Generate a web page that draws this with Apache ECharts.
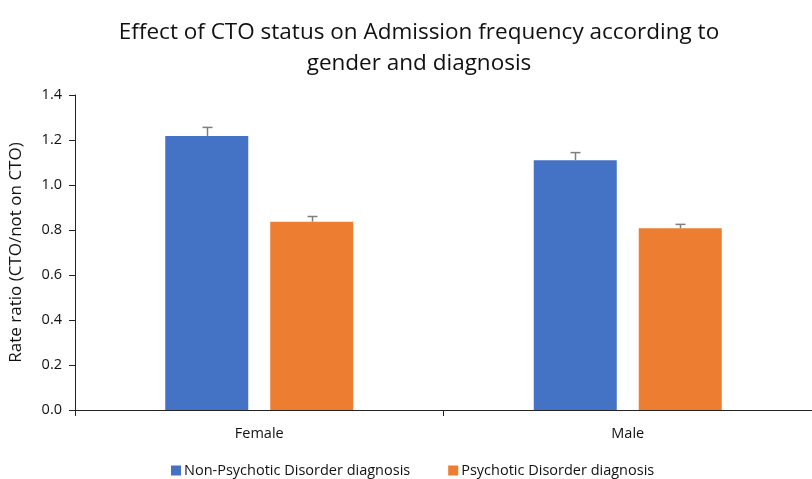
<!DOCTYPE html>
<html><head><meta charset="utf-8">
<script src="https://cdn.jsdelivr.net/npm/echarts@6/dist/echarts.min.js"></script>
<style>html,body{margin:0;padding:0;background:#fff}#c{width:812px;height:479px}</style>
</head><body><div id="c"></div>
<script>
const categories = ['Female', 'Male'];
const seriesNames = ['Non-Psychotic Disorder diagnosis', 'Psychotic Disorder diagnosis'];
const nonPsychotic = [1.218, 1.110];
const psychotic = [0.837, 0.808];
const nonPsychoticErrTop = [1.256, 1.144];
const psychoticErrTop = [0.860, 0.825];
const yTicks = [0, 0.2, 0.4, 0.6, 0.8, 1.0, 1.2, 1.4];

const BAR_W = 83, GAP = 22;
const font = '"Open Sans", "Liberation Sans", sans-serif';

function errSeries(vals, tops, offset) {
  return {
    type: 'custom',
    silent: true,
    z: 5,
    data: categories.map((c, i) => [i, vals[i], tops[i]]),
    renderItem: function (params, api) {
      const base = api.coord([api.value(0), api.value(1)]);
      const top = api.coord([api.value(0), api.value(2)]);
      const x = Math.round(base[0] + offset) + 0.5;
      return {
        type: 'group',
        children: [
          {type: 'line', shape: {x1: x, y1: base[1], x2: x, y2: top[1]}, style: {stroke: '#7f7f7f', lineWidth: 1.5}},
          {type: 'line', shape: {x1: x - 5, y1: top[1], x2: x + 5, y2: top[1]}, style: {stroke: '#7f7f7f', lineWidth: 1.5}}
        ]
      };
    }
  };
}

const chart = echarts.init(document.getElementById('c'));
chart.setOption({
  animation: false,
  title: {
    text: 'Effect of CTO status on Admission frequency according to\ngender and diagnosis',
    left: 414, top: 12, textAlign: 'center',
    textStyle: {fontFamily: font, fontSize: 22.5, fontWeight: 'normal', color: '#111', lineHeight: 31}
  },
  legend: {
    data: seriesNames,
    top: 458, left: 166,
    itemWidth: 10, itemHeight: 10, itemGap: 38,
    icon: 'rect',
    textStyle: {fontFamily: font, fontSize: 14.5, color: '#111', padding: [0, 0, 0, -2]}
  },
  grid: {left: 75, top: 95, width: 742, height: 315},
  xAxis: {
    type: 'category',
    data: categories,
    axisLine: {lineStyle: {color: '#222', width: 1}},
    axisTick: {show: true, length: 6, lineStyle: {color: '#222'}},
    axisLabel: {fontFamily: font, fontSize: 14.5, color: '#111', margin: 16}
  },
  yAxis: {
    type: 'value', min: 0, max: 1.4, interval: 0.2,
    name: 'Rate ratio (CTO/not on CTO)',
    nameLocation: 'middle', nameGap: 50, nameRotate: 90,
    nameTextStyle: {fontFamily: font, fontSize: 17, color: '#111'},
    axisLine: {show: true, lineStyle: {color: '#222'}},
    axisTick: {show: true, inside: false, length: 6, lineStyle: {color: '#222'}},
    splitLine: {show: false},
    axisLabel: {fontFamily: font, fontSize: 14.5, color: '#111', margin: 13,
      formatter: v => v.toFixed(1)}
  },
  series: [
    {name: seriesNames[0], type: 'bar', data: nonPsychotic, barWidth: BAR_W, barGap: (GAP / BAR_W * 100) + '%',
     itemStyle: {color: '#4472C4'}},
    {name: seriesNames[1], type: 'bar', data: psychotic, barWidth: BAR_W,
     itemStyle: {color: '#ED7D31'}},
    errSeries(nonPsychotic, nonPsychoticErrTop, -(BAR_W + GAP) / 2),
    errSeries(psychotic, psychoticErrTop, (BAR_W + GAP) / 2)
  ]
});
</script></body></html>
